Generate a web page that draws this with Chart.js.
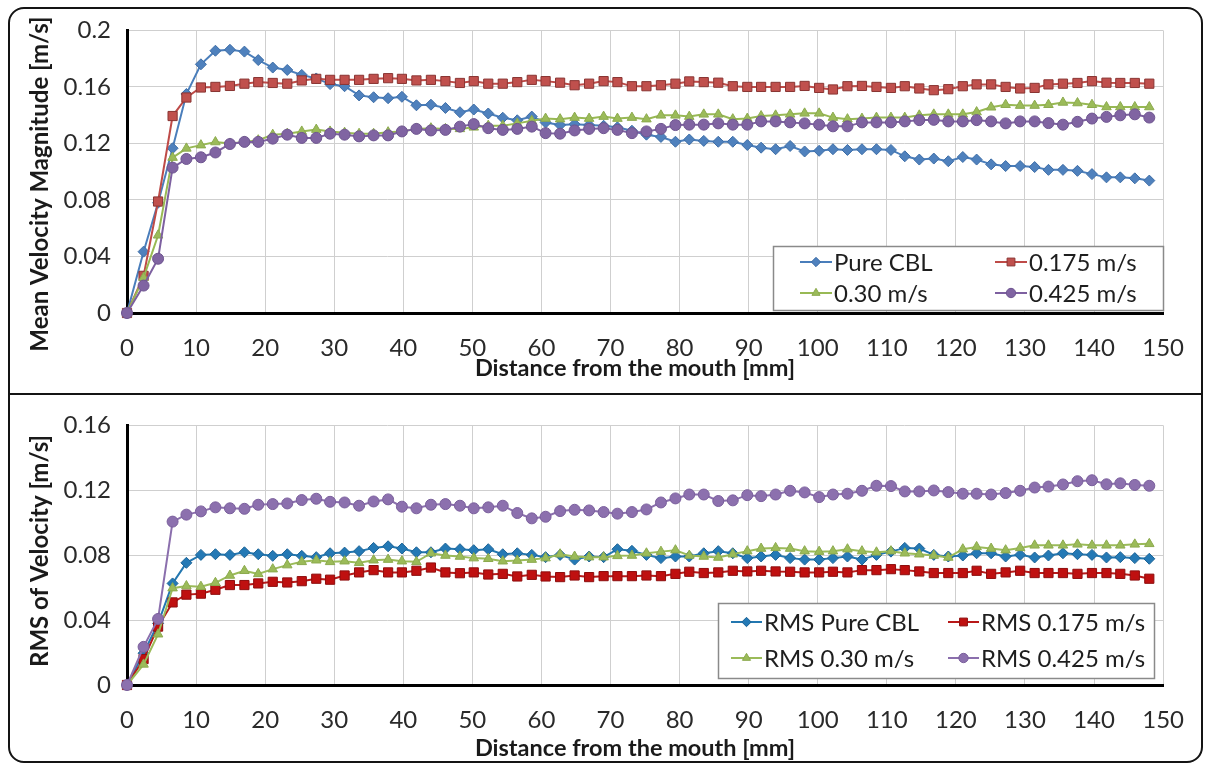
<!DOCTYPE html>
<html><head><meta charset="utf-8">
<script src="https://cdn.jsdelivr.net/npm/chart.js@4.4.1/dist/chart.umd.min.js"></script>
<style>
html,body{margin:0;padding:0;background:#fff;}
#wrap{position:relative;width:1205px;height:765px;overflow:hidden;background:#fff;}
canvas{position:absolute;left:0;}
#frame{position:absolute;left:8px;top:7px;width:1191px;height:752px;border:2px solid #141414;border-radius:16px;pointer-events:none;}
#sep{position:absolute;left:8px;top:393px;width:1195px;height:2px;background:#141414;pointer-events:none;}
</style></head>
<body><div id="wrap">
<canvas id="c1" style="top:0" width="1205" height="394"></canvas>
<canvas id="c2" style="top:395px" width="1205" height="370"></canvas>
<div id="frame"></div><div id="sep"></div>
</div>
<script>
// ---- data ----
const distance = [0, 2.4, 4.5, 6.6, 8.6, 10.7, 12.8, 14.9, 17.0, 19.0,
  21.1, 23.2, 25.3, 27.4, 29.4, 31.5, 33.6, 35.7, 37.8, 39.8,
  41.9, 44.0, 46.1, 48.2, 50.2, 52.3, 54.4, 56.5, 58.6, 60.6,
  62.7, 64.8, 66.9, 69.0, 71.0, 73.1, 75.2, 77.3, 79.4, 81.4,
  83.5, 85.6, 87.7, 89.8, 91.8, 93.9, 96.0, 98.1, 100.2, 102.2,
  104.3, 106.4, 108.5, 110.6, 112.6, 114.7, 116.8, 118.9, 121.0, 123.0,
  125.1, 127.2, 129.3, 131.4, 133.4, 135.5, 137.6, 139.7, 141.8, 143.8,
  145.9, 148.0];

const meanPureCBL = [0, 0.0434, 0.078, 0.1166, 0.155, 0.176, 0.1856, 0.1863, 0.185, 0.179,
  0.1737, 0.172, 0.1685, 0.166, 0.162, 0.1605, 0.154, 0.1527, 0.152, 0.153,
  0.147, 0.1474, 0.1451, 0.1421, 0.144, 0.1412, 0.1382, 0.1364, 0.139, 0.1348,
  0.133, 0.1336, 0.133, 0.1325, 0.1314, 0.129, 0.1262, 0.1246, 0.1212, 0.1228,
  0.1218, 0.1212, 0.1212, 0.1189, 0.117, 0.1159, 0.1182, 0.1143, 0.1148, 0.1159,
  0.1154, 0.1159, 0.1159, 0.1154, 0.1109, 0.1086, 0.1093, 0.1074, 0.1104, 0.1086,
  0.1052, 0.104, 0.104, 0.1033, 0.1013, 0.1013, 0.1006, 0.0983, 0.096, 0.096,
  0.0953, 0.0937];

const mean0175 = [0, 0.0263, 0.0789, 0.1394, 0.1525, 0.1596, 0.16, 0.1607, 0.1623, 0.1634,
  0.1628, 0.1623, 0.1646, 0.1657, 0.165, 0.165, 0.165, 0.1657, 0.1662, 0.1657,
  0.1646, 0.165, 0.1641, 0.1628, 0.1641, 0.1623, 0.1623, 0.1634, 0.165, 0.1641,
  0.163, 0.1612, 0.1623, 0.1641, 0.1634, 0.1605, 0.1605, 0.1612, 0.1623, 0.1639,
  0.1634, 0.163, 0.1605, 0.16, 0.16, 0.16, 0.16, 0.1607, 0.1593, 0.1582,
  0.1605, 0.1607, 0.16, 0.1593, 0.1605, 0.1589, 0.1577, 0.1584, 0.1605, 0.1618,
  0.1618, 0.16, 0.1589, 0.1593, 0.1618, 0.1623, 0.1628, 0.1641, 0.163, 0.1628,
  0.1628, 0.1623];

const mean030 = [0, 0.025, 0.055, 0.110, 0.1165, 0.1188, 0.121, 0.12, 0.1211, 0.1223,
  0.1262, 0.1269, 0.1285, 0.1298, 0.1285, 0.1276, 0.1269, 0.1269, 0.128, 0.1285,
  0.1303, 0.1308, 0.1303, 0.1303, 0.1314, 0.1326, 0.1326, 0.1342, 0.136, 0.1376,
  0.1372, 0.1383, 0.1376, 0.139, 0.1376, 0.1383, 0.1372, 0.1399, 0.1399, 0.139,
  0.1406, 0.1406, 0.1372, 0.1376, 0.1394, 0.1399, 0.1406, 0.1413, 0.1413, 0.1383,
  0.1372, 0.1376, 0.1383, 0.1383, 0.1383, 0.1399, 0.1406, 0.1406, 0.1406, 0.1422,
  0.1456, 0.1474, 0.1468, 0.1468, 0.1474, 0.149, 0.1486, 0.1474, 0.1458, 0.1458,
  0.1458, 0.1458];

const mean0425 = [0, 0.0194, 0.0384, 0.1029, 0.109, 0.1102, 0.1136, 0.1196, 0.1211, 0.1211,
  0.1234, 0.1262, 0.1239, 0.1239, 0.1269, 0.1262, 0.125, 0.1257, 0.1257, 0.1285,
  0.1303, 0.1292, 0.1296, 0.1319, 0.1337, 0.1308, 0.1296, 0.1303, 0.1319, 0.1273,
  0.1269, 0.1292, 0.1303, 0.1308, 0.1296, 0.1273, 0.1285, 0.1303, 0.133, 0.1333,
  0.1333, 0.1342, 0.1333, 0.1333, 0.1356, 0.1356, 0.1349, 0.1342, 0.1333, 0.1321,
  0.1321, 0.1349, 0.1349, 0.1349, 0.1356, 0.1365, 0.1367, 0.1356, 0.1356, 0.1365,
  0.1356, 0.1342, 0.1356, 0.1356, 0.1344, 0.1333, 0.1353, 0.1376, 0.1388, 0.1399,
  0.1406, 0.1383];

const rmsPureCBL = [0, 0.0196, 0.038, 0.0626, 0.0753, 0.0802, 0.0806, 0.0802, 0.0818, 0.0806,
  0.0796, 0.0806, 0.0796, 0.0788, 0.0812, 0.0816, 0.0825, 0.0845, 0.0855, 0.0841,
  0.0818, 0.0818, 0.0841, 0.0837, 0.0831, 0.0837, 0.0806, 0.0812, 0.0802, 0.0788,
  0.0802, 0.0773, 0.0792, 0.0788, 0.0837, 0.0827, 0.0802, 0.0782, 0.0792, 0.0792,
  0.0812, 0.0825, 0.0812, 0.0782, 0.0792, 0.0802, 0.0782, 0.0773, 0.0773, 0.0782,
  0.0792, 0.0773, 0.0802, 0.0822, 0.0845, 0.0841, 0.0802, 0.0792, 0.0798, 0.0812,
  0.0812, 0.0792, 0.0802, 0.0786, 0.0798, 0.0812, 0.0806, 0.0802, 0.0786, 0.0788,
  0.0782, 0.0778];

const rms0175 = [0, 0.016, 0.036, 0.0509, 0.0557, 0.0563, 0.0587, 0.0616, 0.0616, 0.0626,
  0.0636, 0.0632, 0.064, 0.0655, 0.0649, 0.0675, 0.0694, 0.0708, 0.0694, 0.0694,
  0.0704, 0.0724, 0.0694, 0.0689, 0.0694, 0.0681, 0.0685, 0.0669, 0.0679, 0.0669,
  0.0665, 0.0675, 0.0665, 0.0671, 0.0671, 0.0671, 0.0675, 0.0671, 0.0685, 0.0698,
  0.069, 0.0694, 0.0704, 0.07, 0.0704, 0.07, 0.0698, 0.0694, 0.0694, 0.0698,
  0.0694, 0.0708, 0.0708, 0.0714, 0.0708, 0.07, 0.069, 0.069, 0.069, 0.0704,
  0.0685, 0.0694, 0.0704, 0.069, 0.069, 0.069, 0.0685, 0.069, 0.069, 0.0685,
  0.0675, 0.0655];

const rms030 = [0, 0.0127, 0.0313, 0.0597, 0.061, 0.0606, 0.063, 0.0675, 0.0704, 0.0685,
  0.0714, 0.0739, 0.0759, 0.0769, 0.0759, 0.0763, 0.0753, 0.0769, 0.0773, 0.0763,
  0.0759, 0.0812, 0.0798, 0.0792, 0.0782, 0.0778, 0.0763, 0.0767, 0.0773, 0.0782,
  0.0806, 0.0792, 0.0788, 0.0788, 0.0796, 0.0798, 0.0812, 0.0822, 0.0831, 0.0798,
  0.0792, 0.0786, 0.0806, 0.0825, 0.0841, 0.0845, 0.0841, 0.0825, 0.0822, 0.0825,
  0.0837, 0.0825, 0.0818, 0.0825, 0.0812, 0.0806, 0.0798, 0.0786, 0.0837, 0.0851,
  0.0841, 0.0831, 0.0845, 0.0861, 0.0861, 0.0861, 0.0867, 0.0861, 0.0861, 0.0861,
  0.0867, 0.087];

const rms0425 = [0, 0.0235, 0.0407, 0.1007, 0.105, 0.107, 0.1095, 0.1089, 0.1086, 0.1111,
  0.1115, 0.1119, 0.114, 0.1148, 0.1129, 0.1125, 0.1105, 0.1131, 0.1144, 0.1099,
  0.1089, 0.1111, 0.1115, 0.1105, 0.1089, 0.1095, 0.1105, 0.106, 0.1027, 0.1037,
  0.1072, 0.108, 0.1076, 0.1066, 0.1056, 0.1066, 0.1082, 0.1125, 0.115, 0.1174,
  0.1174, 0.1134, 0.1138, 0.117, 0.1164, 0.1174, 0.1197, 0.1187, 0.1158, 0.1174,
  0.1179, 0.1197, 0.1228, 0.1226, 0.1193, 0.1193, 0.1199, 0.1189, 0.1179, 0.1179,
  0.1174, 0.1183, 0.1197, 0.1217, 0.1223, 0.1236, 0.1256, 0.1262, 0.1237, 0.1243,
  0.1233, 0.1228];

const xTicks = [0, 10, 20, 30, 40, 50, 60, 70, 80, 90, 100, 110, 120, 130, 140, 150];
const meanTicks = [0, 0.04, 0.08, 0.12, 0.16, 0.2];
const rmsTicks = [0, 0.04, 0.08, 0.12, 0.16];
const meanLabels = ['Pure CBL', '0.175 m/s', '0.30 m/s', '0.425 m/s'];
const rmsLabels = ['RMS Pure CBL', 'RMS 0.175 m/s', 'RMS 0.30 m/s', 'RMS 0.425 m/s'];

// ---- helpers ----
const FONT = 'Lato, "DejaVu Sans", sans-serif';
const pts = arr => arr.map((v, i) => ({x: distance[i], y: v}));

function ds(label, values, line, fill, border, style, radius, order) {
  return {label, data: pts(values), borderColor: line, backgroundColor: fill,
    pointBackgroundColor: fill, pointBorderColor: border, pointBorderWidth: 1,
    pointStyle: style, pointRadius: radius, pointHoverRadius: radius,
    borderWidth: 2, tension: 0, clip: false, order};
}

const boxLegend = {
  id: 'boxLegend',
  afterDraw(chart, args, o) {
    const ctx = chart.ctx;
    ctx.save();
    ctx.fillStyle = '#fff';
    ctx.fillRect(o.x, o.y, o.w, o.h);
    ctx.strokeStyle = '#8a8a8a'; ctx.lineWidth = 1.5;
    ctx.strokeRect(o.x + 0.5, o.y + 0.5, o.w, o.h);
    chart.data.datasets.forEach((d, i) => {
      const sx = o.colX[i % 2], sy = o.rowY[Math.floor(i / 2)];
      ctx.strokeStyle = d.borderColor; ctx.lineWidth = 2;
      ctx.beginPath(); ctx.moveTo(sx, sy); ctx.lineTo(sx + o.sym, sy); ctx.stroke();
      ctx.fillStyle = d.pointBackgroundColor; ctx.strokeStyle = d.pointBorderColor; ctx.lineWidth = 1;
      Chart.helpers.drawPoint(ctx, {pointStyle: d.pointStyle, rotation: 0, radius: d.pointRadius * 0.85, borderWidth: 1}, sx + o.sym / 2, sy);
      ctx.fillStyle = '#1e1e1e'; ctx.font = o.font; ctx.textAlign = 'left'; ctx.textBaseline = 'middle';
      ctx.fillText(d.label, sx + o.sym + 2, sy + 1);
    });
    ctx.restore();
  }
};

const axisTitles = {
  id: 'axisTitles',
  afterDraw(chart, args, o) {
    const ctx = chart.ctx;
    ctx.save();
    ctx.fillStyle = '#1a1a1a';
    ctx.textAlign = 'center'; ctx.textBaseline = 'middle';
    ctx.font = o.xFont;
    ctx.fillText(o.xText, o.xX, o.xY);
    ctx.font = o.yFont;
    ctx.translate(o.yX, o.yY); ctx.rotate(-Math.PI / 2);
    ctx.fillText(o.yText, 0, 0);
    ctx.restore();
  }
};

function makeChart(id, datasets, yTicks, yMax, cfg) {
  return new Chart(document.getElementById(id), {
    type: 'line',
    data: {datasets},
    plugins: [boxLegend, axisTitles],
    options: {
      responsive: false, animation: false, events: [],
      layout: {padding: {left: 0, right: 32, top: cfg.top, bottom: 0}},
      plugins: {legend: {display: false}, tooltip: {enabled: false},
        boxLegend: cfg.legend, axisTitles: cfg.titles},
      scales: {
        x: {type: 'linear', min: 0, max: 150,
          afterBuildTicks: s => { s.ticks = xTicks.map(v => ({value: v})); },
          afterFit: s => { s.height = cfg.xh; },
          grid: {color: '#cfcfcf', lineWidth: 1, drawTicks: false},
          border: {color: '#000', width: 3},
          ticks: {padding: cfg.xpad, color: '#2a2a2a', font: {family: FONT, size: 24}, maxRotation: 0, autoSkip: false}},
        y: {type: 'linear', min: 0, max: yMax,
          afterBuildTicks: s => { s.ticks = yTicks.map(v => ({value: v})); },
          afterFit: s => { s.width = 127; },
          grid: {color: '#cfcfcf', lineWidth: 1, drawTicks: false},
          border: {color: '#000', width: 3},
          ticks: {padding: 16, color: '#2a2a2a', font: {family: FONT, size: 24},
            callback: v => String(Number(v.toFixed(2)))}}
      }
    }
  });
}

makeChart('c1', [
  ds(meanLabels[0], meanPureCBL, '#4A7EBB', '#4F81BD', '#3D6DA6', 'rectRot', 5.5, 4),
  ds(meanLabels[1], mean0175, '#BE4B48', '#C0504D', '#8A3533', 'rect', 6.5, 3),
  ds(meanLabels[2], mean030, '#98B954', '#9BBB59', '#8CAA4E', 'triangle', 5.5, 2),
  ds(meanLabels[3], mean0425, '#7D60A0', '#8064A2', '#6E5590', 'circle', 5.5, 1)
], meanTicks, 0.2, {
  top: 22, xh: 81, xpad: 21,
  legend: {x: 773, y: 246, w: 390, h: 64, colX: [800, 995], rowY: [262, 293], sym: 32, font: '24px ' + FONT},
  titles: {xFont: 'bold 23.5px ' + FONT, yFont: 'bold 24px ' + FONT,
    xText: 'Distance from the mouth [mm]', xX: 635, xY: 368,
    yText: 'Mean Velocity Magnitude [m/s]', yX: 40, yY: 184}
});

makeChart('c2', [
  ds(rmsLabels[0], rmsPureCBL, '#2377B0', '#2479B5', '#1C6396', 'rectRot', 5.5, 4),
  ds(rmsLabels[1], rms0175, '#B81818', '#BF1010', '#8E0E0E', 'rect', 6.5, 3),
  ds(rmsLabels[2], rms030, '#9BBB59', '#9BBB59', '#8CAA4E', 'triangle', 5.5, 2),
  ds(rmsLabels[3], rms0425, '#8B6FAD', '#8C70AE', '#7A5F9C', 'circle', 5.5, 1)
], rmsTicks, 0.16, {
  top: 17, xh: 80, xpad: 21,
  legend: {x: 718, y: 208, w: 436, h: 75, colX: [731, 948], rowY: [227, 263], sym: 31, font: '24px ' + FONT},
  titles: {xFont: 'bold 23.5px ' + FONT, yFont: 'bold 24px ' + FONT,
    xText: 'Distance from the mouth [mm]', xX: 635, xY: 353,
    yText: 'RMS of Velocity [m/s]', yX: 40, yY: 156}
});
</script>
</body></html>
